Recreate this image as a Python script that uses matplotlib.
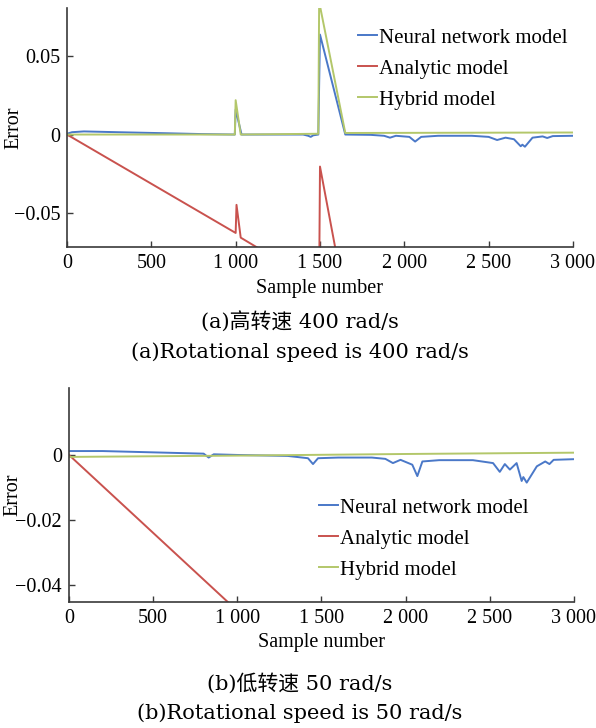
import numpy as np
import matplotlib.pyplot as plt

plt.rcParams["font.family"] = ["Liberation Serif", "Noto Sans CJK SC"]

# ---- data ----
series_names = ["Neural network model", "Analytic model", "Hybrid model"]
colors = ["#4a78c8", "#c9524e", "#b3c76a"]

# (a) 400 rad/s
a_nn_x = [0, 30, 100, 300, 600, 800, 995, 1000, 1035, 1200, 1400, 1430, 1445, 1460, 1490,
          1500, 1650, 1800, 1880, 1915, 1950, 2030, 2064, 2100, 2200, 2400, 2500, 2550,
          2600, 2650, 2690, 2700, 2715, 2760, 2820, 2847, 2880, 3000]
a_nn_y = [0.0005, 0.0015, 0.002, 0.0015, 0.0008, 0.0003, 0.0, 0.016, 0.0, 0.0, 0.0, -0.0008,
          -0.0015, -0.0005, 0.0, 0.064, 0.0, -0.0002, -0.0008, -0.002, -0.0008, -0.0015,
          -0.0045, -0.0015, -0.0008, -0.0008, -0.0015, -0.0035, -0.002, -0.003, -0.0075,
          -0.0065, -0.0078, -0.002, -0.0012, -0.0022, -0.001, -0.0008]
a_an_x = [0, 1000, 1005, 1030, 1200, 1495, 1500, 1600, 1700]
a_an_y = [0.0, -0.063, -0.045, -0.066, -0.077, -0.095, -0.0205, -0.078, -0.1]
a_hy_x = [0, 995, 1000, 1030, 1490, 1495, 1650, 3000]
a_hy_y = [0.0, 0.0, 0.022, 0.0, 0.0005, 0.085, 0.001, 0.0013]

# (b) 50 rad/s
b_nn_x = [0, 200, 500, 800, 830, 860, 1000, 1300, 1420, 1450, 1480, 1600, 1800, 1880, 1925,
          1970, 2040, 2070, 2100, 2200, 2400, 2520, 2560, 2590, 2620, 2660, 2690, 2700,
          2720, 2780, 2830, 2855, 2880, 3000]
b_nn_y = [0.0012, 0.0012, 0.0008, 0.0004, -0.0008, 0.0002, 0.0, -0.0003, -0.001, -0.0028,
          -0.001, -0.0008, -0.0008, -0.0012, -0.0025, -0.0015, -0.003, -0.0065, -0.002,
          -0.0016, -0.0016, -0.0025, -0.0052, -0.0028, -0.0045, -0.0025, -0.008, -0.0068,
          -0.0085, -0.0035, -0.002, -0.0028, -0.0015, -0.0013]
b_an_x = [0, 1100]
b_an_y = [0.0, -0.0527]
b_hy_x = [0, 1000, 2000, 3000]
b_hy_y = [-0.0006, -0.0002, 0.0003, 0.0007]

x_ticks = [0, 500, 1000, 1500, 2000, 2500, 3000]
x_tick_labels = ["0", "500", "1 000", "1 500", "2 000", "2 500", "3 000"]
a_y_ticks = [-0.05, 0, 0.05]
a_y_tick_labels = ["\u22120.05", "0", "0.05"]
b_y_ticks = [-0.04, -0.02, 0]
b_y_tick_labels = ["\u22120.04", "\u22120.02", "0"]

captions_a = ["(a)高转速 400 rad/s", "(a)Rotational speed is 400 rad/s"]
captions_b = ["(b)低转速 50 rad/s", "(b)Rotational speed is 50 rad/s"]

fig = plt.figure(figsize=(5.96, 7.28), dpi=100)
ax1 = fig.add_axes([0.1124, 0.6607, 0.849, 0.3283])
ax2 = fig.add_axes([0.1158, 0.1731, 0.847, 0.2940])


def style(ax, yticks, ylabels, ylim, label_x):
    for s in ["top", "right"]:
        ax.spines[s].set_visible(False)
    for s in ["left", "bottom"]:
        ax.spines[s].set_color("#3a3a3a")
        ax.spines[s].set_linewidth(1.2)
    ax.set_xlim(0, 3000)
    ax.set_ylim(*ylim)
    ax.set_xticks(x_ticks, x_tick_labels)
    ax.set_yticks(yticks, ylabels)
    ax.tick_params(direction="in", length=4, width=1.0, color="#3a3a3a",
                   labelsize=14.5, pad=5)
    ax.set_xlabel("Sample number", fontsize=14.5, labelpad=4)
    ax.set_ylabel("Error", fontsize=14.5)
    ax.yaxis.set_label_coords(label_x, 0.5)


lw = 1.4
ax1.plot(a_nn_x, a_nn_y, color=colors[0], lw=lw, label=series_names[0])
ax1.plot(a_an_x, a_an_y, color=colors[1], lw=lw, label=series_names[1])
ax1.plot(a_hy_x, a_hy_y, color=colors[2], lw=lw, label=series_names[2])
style(ax1, a_y_ticks, a_y_tick_labels, (-0.072, 0.081), -0.087)
leg_kw = dict(loc="upper left", frameon=False, fontsize=15, handlelength=0.9,
              handletextpad=0.1, labelspacing=0.55, borderpad=0, borderaxespad=0)
ax1.legend(bbox_to_anchor=(358 / 596, 1 - 28 / 728), bbox_transform=fig.transFigure, **leg_kw)

ax2.plot(b_nn_x, b_nn_y, color=colors[0], lw=lw, label=series_names[0])
ax2.plot(b_an_x, b_an_y, color=colors[1], lw=lw, label=series_names[1])
ax2.plot(b_hy_x, b_hy_y, color=colors[2], lw=lw, label=series_names[2])
style(ax2, b_y_ticks, b_y_tick_labels, (-0.0452, 0.0206), -0.093)
ax2.legend(bbox_to_anchor=(319 / 596, 1 - 498 / 728), bbox_transform=fig.transFigure, **leg_kw)

cap_font = ["DejaVu Serif", "Noto Sans CJK SC"]
fig.text(0.503, 1 - 322 / 728, captions_a[0], ha="center", va="center", fontsize=15, family=cap_font)
fig.text(0.503, 1 - 352 / 728, captions_a[1], ha="center", va="center", fontsize=15, family=cap_font)
fig.text(0.503, 1 - 683 / 728, captions_b[0], ha="center", va="center", fontsize=15, family=cap_font)
fig.text(0.503, 1 - 713 / 728, captions_b[1], ha="center", va="center", fontsize=15, family=cap_font)

fig.savefig("out.png", dpi=100)
